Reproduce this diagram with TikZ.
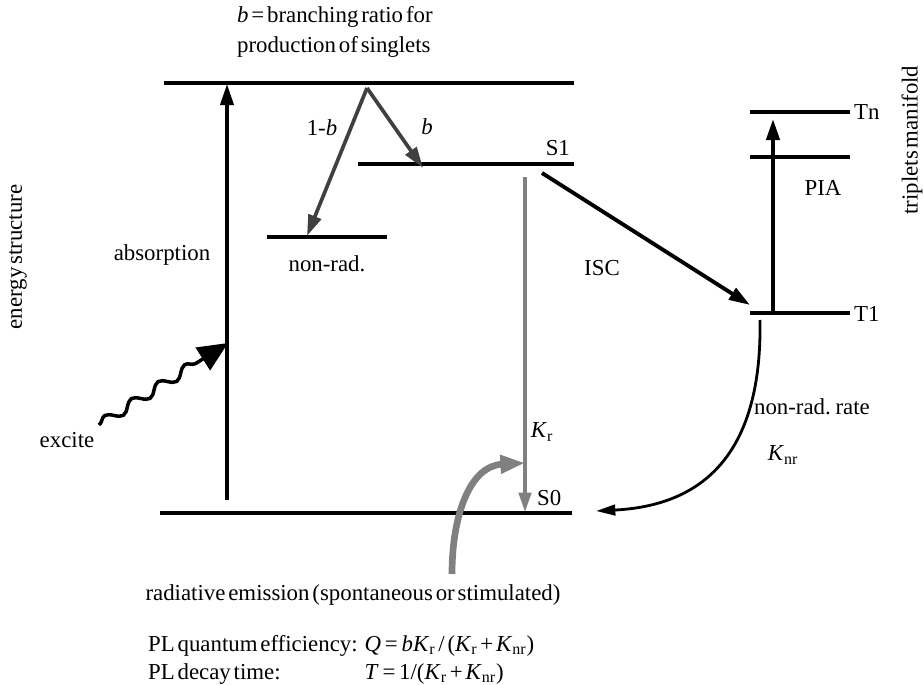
\documentclass[tikz,border=0pt]{standalone}
\usepackage{fontspec}
\setmainfont{Liberation Serif}[WordSpace=0.5]
\usepackage{tikz}
\usetikzlibrary{arrows.meta,decorations.pathmorphing}

\definecolor{darkarr}{HTML}{404040}
\definecolor{lightarr}{HTML}{808080}

\begin{document}
\begin{tikzpicture}[x=0.02cm, y=-0.02cm,
    every node/.style={font=\fontsize{13}{17}\selectfont, inner sep=1pt},
    level/.style={line width=2.2pt},
    trans/.style={line width=1.9pt, -{Triangle[length=12pt, width=7.5pt]}},
    branch/.style={draw=darkarr, line width=2.1pt, -{Triangle[length=12pt, width=7.5pt]}}]
  \useasboundingbox (0,0) rectangle (923,685);

  % levels
  \coordinate (hi-l) at (164,83);   \coordinate (hi-r) at (574,83);
  \coordinate (s1-l) at (358,164);  \coordinate (s1-r) at (574,164);
  \coordinate (nr-l) at (267,237);  \coordinate (nr-r) at (387,237);
  \coordinate (s0-l) at (160,513);  \coordinate (s0-r) at (572,513);
  \coordinate (t1-l) at (750,313);  \coordinate (t1-r) at (850,313);
  \coordinate (tm-l) at (750,157);  \coordinate (tm-r) at (850,157);
  \coordinate (tn-l) at (750,112);  \coordinate (tn-r) at (850,112);
  \foreach \lv in {hi,s1,nr,s0,t1,tm,tn}
    \draw[level] (\lv-l) -- (\lv-r);

  \node[anchor=base east] (s1lab) at (572,156) {S1};
  \node[anchor=base west] (s0lab) at (535,506) {S0};
  \node[anchor=west] (t1lab) at (852,314) {T1};
  \node[anchor=west] (tnlab) at (852,112) {Tn};
  \node (nrlab) at (327,264) {non-rad.};

  % absorption and excitation
  \coordinate (abs-a) at (227,500);
  \coordinate (abs-b) at (227,84);
  \draw[trans] (abs-a) -- (abs-b);
  \node (abslab) at (162,255) {absorption};
  \coordinate (exc-a) at (99,425);
  \coordinate (exc-b) at (228,343);
  \draw[line width=2pt, decorate,
        decoration={snake, segment length=18pt, amplitude=2.8pt, post length=20pt},
        -{Triangle[length=17pt, width=15pt]}] (exc-a) -- (exc-b);
  \node (exclab) at (67,440) {excite};

  % branching
  \coordinate (apex) at (367,88);
  \coordinate (nr-t) at (307,236);
  \coordinate (s1-t) at (423,168);
  \draw[branch] (apex) -- (nr-t);
  \draw[branch] (apex) -- (s1-t);
  \node (onemb) at (322,128) {1-\textit{b}};
  \node (blab) at (427,127) {\textit{b}};
  \node[align=left, anchor=north west] (brtext) at (235,4) {\textit{b} = branching ratio for\\production of singlets};

  % radiative decay
  \coordinate (kr-a) at (525,177);
  \coordinate (kr-b) at (525,512);
  \draw[draw=lightarr, line width=2pt, -{Triangle[length=11pt, width=7pt]}] (kr-a) -- (kr-b);
  \node (krlab) at (542,432) {\textit{K}\textsubscript{r}};
  \coordinate (em-a) at (452,574);
  \coordinate (em-b) at (525,463);
  \draw[draw=lightarr, line width=3.8pt, -{Triangle[length=14pt, width=10pt]}]
    (em-a) .. controls (452,515) and (470,466) .. (em-b);
  \node (emlab) at (353,595) {radiative emission (spontaneous or stimulated)};

  % intersystem crossing
  \coordinate (isc-a) at (542,173);
  \coordinate (isc-b) at (750,305);
  \draw[trans, line width=2.2pt] (isc-a) -- (isc-b);
  \node (isclab) at (602,268) {ISC};

  % photoinduced absorption
  \coordinate (pia-a) at (773,311);
  \coordinate (pia-b) at (773,119);
  \draw[trans, line width=2.2pt] (pia-a) -- (pia-b);
  \node (pialab) at (823,188) {PIA};

  % non-radiative triplet decay
  \coordinate (knr-a) at (760,320);
  \coordinate (knr-b) at (596,511);
  \draw[line width=1.6pt, -{Triangle[length=11pt, width=6pt]}]
    (knr-a) .. controls (762,440) and (715,505) .. (knr-b);
  \node[anchor=west] (knrtext) at (752,407) {non-rad. rate};
  \node (knrlab) at (783,455) {\textit{K}\textsubscript{nr}};

  % side labels
  \node[rotate=90] (energy) at (18,257) {energy structure};
  \node[rotate=90] (triplets) at (912,140) {triplets manifold};

  % formulas
  \node[anchor=north west] (formulas) at (146,628) {%
    \begin{tabular}{@{}l@{\hspace{4pt}}l@{}}
      PL quantum efficiency: & \textit{Q}\,=\,\textit{bK}\textsubscript{r} / (\textit{K}\textsubscript{r} + \textit{K}\textsubscript{nr})\\[-1pt]
      PL decay time: & \textit{T}\,=\,1/(\textit{K}\textsubscript{r} + \textit{K}\textsubscript{nr})
    \end{tabular}};
\end{tikzpicture}
\end{document}
